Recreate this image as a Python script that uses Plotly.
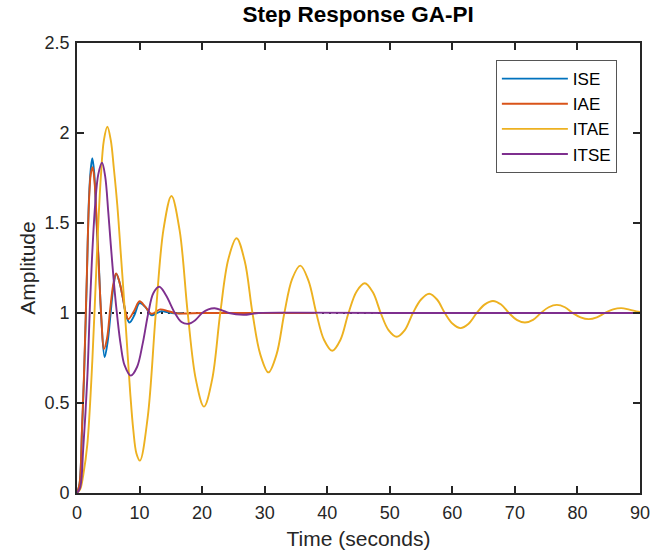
import plotly.graph_objects as go

# ---- data ----
ise_t = [0, 0.4, 0.8, 1.12, 1.55, 1.92, 2.2, 2.45, 2.75, 3.1, 3.45, 3.95, 4.42, 4.9, 5.35, 5.8, 6.28, 6.8, 7.35, 7.9, 8.4, 9.2, 10.0, 11.0, 11.9, 12.7, 13.5, 14.5, 15.5, 17.0]
ise_y = [0, 0.05, 0.35, 0.64, 1.16, 1.64, 1.80, 1.86, 1.78, 1.52, 1.30, 0.93, 0.755, 0.84, 0.99, 1.14, 1.218, 1.17, 1.08, 0.98, 0.947, 0.99, 1.055, 1.03, 0.988, 0.998, 1.01, 1.004, 0.999, 1.0]

iae_t = [0, 0.4, 0.8, 1.12, 1.55, 1.92, 2.2, 2.5, 2.8, 3.4, 3.9, 4.3, 4.8, 5.3, 5.8, 6.25, 6.8, 7.3, 7.8, 8.2, 9.1, 10.0, 10.9, 11.9, 13.3, 14.6, 16.0, 20.0, 25.0, 30.0, 38.0]
iae_y = [0, 0.05, 0.36, 0.66, 1.18, 1.62, 1.77, 1.81, 1.73, 1.32, 0.97, 0.80, 0.86, 1.02, 1.16, 1.22, 1.17, 1.09, 1.0, 0.966, 1.01, 1.065, 1.035, 0.996, 1.02, 1.01, 0.998, 1.0, 1.0, 1.0, 1.0]

itae_t = [0, 0.5, 1.0, 1.65, 2.45, 3.25, 3.8, 4.3, 4.85, 5.4, 5.9, 6.44, 7.0, 7.5, 8.0, 8.5, 9.0, 9.5, 10.06,
          11.3, 12.6, 13.85, 15.1, 16.4, 17.7, 19.0, 20.3, 21.6, 22.9, 24.2, 25.5, 26.8, 28.05, 29.3, 30.6,
          31.9, 33.15, 34.4, 35.7, 37.0, 38.25, 39.5, 40.8, 42.1, 43.4, 44.7, 46.0, 47.3, 48.55, 49.8, 51.1,
          52.4, 53.7, 55.0, 56.3, 57.55, 58.8, 60.05, 61.3, 62.6, 63.9, 65.2, 66.5, 67.8, 69.05, 70.3, 71.6,
          72.9, 74.15, 75.4, 76.7, 78.0, 79.25, 80.5, 81.8, 83.1, 84.4, 85.7, 87.0, 88.3, 90.0]
itae_y = [0, 0.02, 0.10, 0.27, 0.735, 1.38, 1.75, 1.96, 2.035, 1.96, 1.80, 1.60, 1.33, 1.085, 0.82, 0.56, 0.35, 0.22, 0.18,
          0.42, 1.0, 1.47, 1.65, 1.46, 1.0, 0.63, 0.48, 0.63, 1.0, 1.30, 1.415, 1.29, 1.0, 0.77, 0.67,
          0.77, 1.0, 1.19, 1.263, 1.18, 1.0, 0.85, 0.79, 0.85, 1.0, 1.12, 1.165, 1.115, 1.0, 0.905, 0.868,
          0.905, 1.0, 1.075, 1.107, 1.075, 1.0, 0.94, 0.916, 0.94, 1.0, 1.048, 1.067, 1.047, 1.0, 0.962, 0.947,
          0.962, 1.0, 1.032, 1.045, 1.032, 1.0, 0.976, 0.966, 0.976, 1.0, 1.02, 1.027, 1.019, 1.005]

itse_t = [0, 0.5, 1.0, 1.65, 2.08, 2.45, 2.9, 3.4, 4.0, 4.5, 5.0, 5.4, 6.0, 6.45, 7.0, 7.6, 8.6, 9.6, 10.5, 11.4, 12.2,
          13.15, 14.2, 15.65, 16.7, 17.8, 18.9, 20.0, 21.0, 22.0, 23.2, 24.3, 26.6, 29.0, 35.0, 50.0, 90.0]
itse_y = [0, 0.03, 0.25, 0.64, 1.05, 1.34, 1.60, 1.77, 1.835, 1.76, 1.56, 1.38, 1.13, 0.975, 0.82, 0.71, 0.652, 0.70, 0.83, 1.0, 1.11,
          1.146, 1.10, 1.0, 0.95, 0.94, 0.96, 1.0, 1.02, 1.026, 1.015, 1.0, 0.99, 1.0, 1.002, 1.0, 1.0]

steady_t = [0, 90]
steady_y = [1, 1]

series_names = ["ISE", "IAE", "ITAE", "ITSE"]
series_t = [ise_t, iae_t, itae_t, itse_t]
series_y = [ise_y, iae_y, itae_y, itse_y]
colors = ["#0072BD", "#D95319", "#EDB120", "#7E2F8E"]

x_ticks = [0, 10, 20, 30, 40, 50, 60, 70, 80, 90]
y_ticks = [0, 0.5, 1, 1.5, 2, 2.5]
y_tick_labels = ["0", "0.5", "1", "1.5", "2", "2.5"]

FONT = "Liberation Sans, Arial, sans-serif"
AXC = "#262626"

fig = go.Figure()
fig.add_trace(go.Scatter(x=steady_t, y=steady_y, mode="lines", showlegend=False, hoverinfo="skip",
                         line=dict(color="#222222", width=2, dash="2px,5px")))
for name, t, y, c in zip(series_names, series_t, series_y, colors):
    fig.add_trace(go.Scatter(x=t, y=y, name=name, mode="lines",
                             line=dict(color=c, width=1.9, shape="spline", smoothing=1.0)))

fig.update_layout(
    width=651, height=559,
    margin=dict(l=77, r=11, t=43, b=66, autoexpand=False),
    paper_bgcolor="white", plot_bgcolor="white",
    font=dict(family=FONT, color=AXC),
    title=dict(text="<b>Step Response GA-PI</b>", x=0.55, xanchor="center", y=0.989, yanchor="top",
               font=dict(size=22.5, color="#000000", family=FONT), automargin=False),
    legend=dict(x=0.744, y=0.962, xanchor="left", yanchor="top",
                bgcolor="white", bordercolor="#555555", borderwidth=1,
                font=dict(size=17, color="#000000", family=FONT),
                itemwidth=66, tracegroupgap=0),
)
fig.update_xaxes(range=[0, 90], tickvals=x_ticks, ticks="inside", ticklen=7, tickwidth=1.5, tickcolor=AXC,
                 showline=True, linecolor=AXC, linewidth=1.6, mirror="ticks", showgrid=False, zeroline=False,
                 automargin=False, tickfont=dict(size=18, color=AXC), ticklabelstandoff=3,
                 title=dict(text="Time (seconds)", font=dict(size=21, color=AXC), standoff=9))
fig.update_yaxes(range=[0, 2.5], tickvals=y_ticks, ticktext=y_tick_labels, ticks="inside", ticklen=7, tickwidth=1.5,
                 tickcolor=AXC, showline=True, linecolor=AXC, linewidth=1.6, mirror="ticks", showgrid=False,
                 zeroline=False, automargin=False, tickfont=dict(size=18, color=AXC), ticklabelstandoff=2,
                 title=dict(text="Amplitude", font=dict(size=21, color=AXC), standoff=3))

fig.write_html("out.html", config={"displayModeBar": False},
               post_script="document.body.style.margin='0px';")
